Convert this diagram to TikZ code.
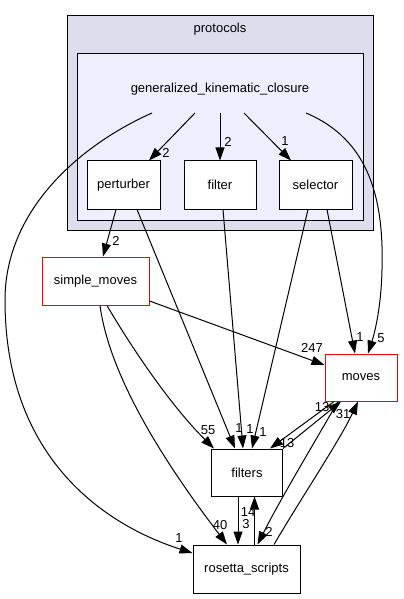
\documentclass[tikz,border=0pt]{standalone}
\usepackage{fontspec}
\setmainfont{Liberation Sans}
\usetikzlibrary{arrows.meta}
\definecolor{outerfill}{HTML}{DDDDEE}
\definecolor{innerfill}{HTML}{EEEEFF}
\definecolor{redborder}{HTML}{FF0000}
\begin{document}
\begin{tikzpicture}[x=1bp,y=-1bp,
  font=\fontsize{13bp}{15bp}\selectfont,
  box/.style={draw=black, fill=white, line width=1bp, minimum height=48bp, inner sep=0pt, anchor=center},
  redbox/.style={box, draw=redborder},
  edge/.style={draw=black, line width=1bp, -{Triangle[length=13bp,width=9bp]}},
  lbl/.style={inner sep=0pt, font=\fontsize{13bp}{15bp}\selectfont}]
\useasboundingbox (0,0) rectangle (403,599);
\fill[white] (0,0) rectangle (403,599);
% clusters
\draw[fill=outerfill, line width=1bp] (67,16) rectangle (373,230);
\draw[fill=innerfill, line width=1bp] (77,54) rectangle (363,220);
\node[lbl] (protocols) at (220,29) {protocols};
\node[lbl] (gkc) at (220,89) {generalized\_kinematic\_closure};
\coordinate (gA) at (152,113);
\coordinate (gB) at (195,113);
\coordinate (gC) at (220,113);
\coordinate (gD) at (244,113);
\coordinate (gE) at (306,113);
% nodes
\node[box, minimum width=73bp] (perturber) at (123.5,185) {perturber};
\node[box, minimum width=72bp] (filter) at (220,185) {filter};
\node[box, minimum width=73bp] (selector) at (315.5,185) {selector};
\node[redbox, minimum width=107bp] (simple) at (95.5,281) {simple\_moves};
\node[redbox, minimum width=72bp, minimum height=47bp] (moves) at (361,377.5) {moves};
\node[box, minimum width=71bp, minimum height=47bp] (filters) at (247,472.5) {filters};
\node[box, minimum width=107bp] (rosetta) at (246.5,569) {rosetta\_scripts};
% edges from generalized_kinematic_closure
\draw[edge] (gB) -- ([xshift=25.5bp]perturber.north) node[lbl] at (166,153) {2};
\draw[edge] (gC) -- (filter.north) node[lbl] at (228,142) {2};
\draw[edge] (gD) -- ([xshift=-24.5bp]selector.north) node[lbl] at (285,141) {1};
\draw[edge] (gA) .. controls (80,145) and (5,210) .. (5,300)
  .. controls (5,470) and (120,530) .. ([yshift=16bp]rosetta.west) node[lbl] at (179,538) {1};
\draw[edge] (gE) .. controls (370,140) and (384,200) .. (382,270)
  .. controls (381,310) and (374,335) .. ([xshift=7bp]moves.north) node[lbl] at (381,338) {5};
% perturber
\draw[edge] ([xshift=-7.5bp]perturber.south) -- ([xshift=7.5bp]simple.north) node[lbl] at (116,241) {2};
\draw[edge] ([xshift=13.5bp]perturber.south) -- ([xshift=-12bp]filters.north) node[lbl] at (239,428) {1};
% filter
\draw[edge] ([xshift=3bp]filter.south) -- ([xshift=-4bp]filters.north) node[lbl] at (250,429) {1};
% selector
\draw[edge] ([xshift=-7.5bp]selector.south) -- ([xshift=5bp]filters.north) node[lbl] at (263,432) {1};
\draw[edge] ([xshift=11.5bp]selector.south) -- ([xshift=-6bp]moves.north) node[lbl] at (360,337) {1};
% simple_moves
\draw[edge] ([yshift=-20bp]simple.east) -- ([yshift=12.5bp]moves.west) node[lbl] at (312,348) {247};
\draw[edge] ([xshift=11.5bp]simple.south) .. controls (130,345) and (170,405) .. ([xshift=-33bp]filters.north) node[lbl] at (208,430) {55};
\draw[edge] ([xshift=4.5bp]simple.south) .. controls (110,380) and (170,470) .. ([xshift=-19.5bp]rosetta.north) node[lbl] at (220,525) {40};
% filters <-> moves
\draw[edge] (filters.north east) -- ([xshift=-20bp]moves.south) node[lbl] at (322,407) {13};
\draw[edge] ([xshift=-27bp]moves.south) -- ([xshift=23bp]filters.north) node[lbl] at (287,443) {13};
% moves <-> rosetta_scripts
\draw[edge] ([xshift=-23bp]moves.south) .. controls (310,450) and (280,500) .. ([xshift=11bp]rosetta.north) node[lbl] at (269,532) {2};
\draw[edge] ([xshift=27.5bp]rosetta.north) .. controls (300,500) and (340,440) .. ([xshift=-3bp]moves.south) node[lbl] at (343,414) {31};
% filters <-> rosetta_scripts
\draw[edge] ([xshift=-9bp]filters.south) -- ([xshift=-8.5bp]rosetta.north) node[lbl] at (246,524) {3};
\draw[edge] ([xshift=8bp]rosetta.north) -- ([xshift=7.5bp]filters.south) node[lbl] at (248,512) {14};
\end{tikzpicture}
\end{document}
